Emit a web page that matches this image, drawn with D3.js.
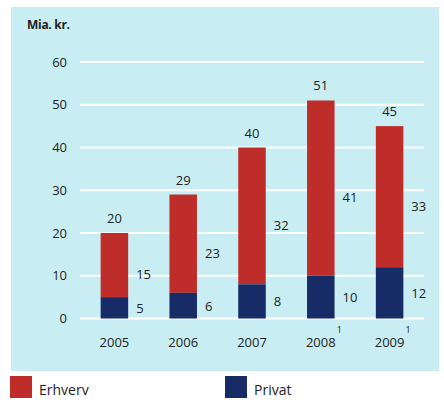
<!DOCTYPE html>
<html>
<head>
<meta charset="utf-8">
<script src="https://cdn.jsdelivr.net/npm/d3@7"></script>
<style>
  body { margin: 0; background: #fff; }
  text { font-family: "Open Sans", "DejaVu Sans", sans-serif; fill: #222; }
</style>
</head>
<body>
<div class="chart"></div>
<script>
// chart data
var years = ["2005", "2006", "2007", "2008", "2009"];
var footnotes = ["", "", "", "1", "1"];
var privat = [5, 6, 8, 10, 12];
var erhverv = [15, 23, 32, 41, 33];
var totals = [20, 29, 40, 51, 45];
var yTicks = [0, 10, 20, 30, 40, 50, 60];

var svgWidth = 444;
var svgHeight = 400;

var svg = d3.select(".chart")
  .append("svg")
  .attr("width", svgWidth)
  .attr("height", svgHeight);

// light blue panel
svg.append("rect")
  .attr("x", 11)
  .attr("y", 7)
  .attr("width", 428)
  .attr("height", 364)
  .attr("fill", "#c8eef4");

var xScale = d3.scaleBand()
  .domain(years)
  .range([80, 424])
  .paddingInner(0.6)
  .paddingOuter(0.3);

var yScale = d3.scaleLinear()
  .domain([0, 60])
  .range([318.5, 62]);

// gridlines
svg.append("g")
  .selectAll("line")
  .data(yTicks)
  .enter()
  .append("line")
  .attr("x1", 80)
  .attr("x2", 424)
  .attr("y1", d => yScale(d))
  .attr("y2", d => yScale(d))
  .attr("stroke", "#fff")
  .attr("stroke-width", 2);

// y axis labels
var yAxis = d3.axisLeft(yScale).tickValues(yTicks).tickSize(0).tickPadding(0);
var yAxisG = svg.append("g")
  .attr("transform", "translate(67, 0)")
  .call(yAxis);
yAxisG.select(".domain").remove();
yAxisG.selectAll("text")
  .attr("font-size", "13px")
  .attr("fill", "#222")
  .style("font-family", "'Open Sans', 'DejaVu Sans', sans-serif");

svg.append("text")
  .attr("x", 27)
  .attr("y", 29)
  .attr("font-size", "12px")
  .attr("font-weight", "bold")
  .attr("letter-spacing", "-0.3")
  .text("Mia. kr.");

var data = years.map(function(y, i) {
  return { year: y, privat: privat[i], erhverv: erhverv[i], total: totals[i], note: footnotes[i] };
});

var bars = svg.append("g").selectAll("g")
  .data(data)
  .enter()
  .append("g");

// erhverv segment (stacked on top of privat)
bars.append("rect")
  .attr("x", d => xScale(d.year))
  .attr("width", xScale.bandwidth())
  .attr("y", d => yScale(d.privat + d.erhverv))
  .attr("height", d => yScale(d.privat) - yScale(d.privat + d.erhverv))
  .attr("fill", "#be2d29");

// privat segment
bars.append("rect")
  .attr("x", d => xScale(d.year))
  .attr("width", xScale.bandwidth())
  .attr("y", d => yScale(d.privat))
  .attr("height", d => yScale(0) - yScale(d.privat))
  .attr("fill", "#172b66");

// total labels above bars
bars.append("text")
  .attr("x", d => xScale(d.year) + xScale.bandwidth() / 2)
  .attr("y", d => yScale(d.total) - 10)
  .attr("text-anchor", "middle")
  .attr("font-size", "13px")
  .text(d => d.total);

// erhverv labels
bars.append("text")
  .attr("x", d => xScale(d.year) + xScale.bandwidth() + 8)
  .attr("y", d => yScale(d.privat + d.erhverv / 2) + 14)
  .attr("font-size", "13px")
  .text(d => d.erhverv);

// privat labels
bars.append("text")
  .attr("x", d => xScale(d.year) + xScale.bandwidth() + 8)
  .attr("y", d => yScale(d.privat / 2) + 5)
  .attr("font-size", "13px")
  .text(d => d.privat);

// year labels
bars.append("text")
  .attr("x", d => xScale(d.year) + xScale.bandwidth() / 2)
  .attr("y", 347)
  .attr("text-anchor", "middle")
  .attr("font-size", "13px")
  .text(d => d.year);

// footnote markers
bars.filter(d => d.note !== "")
  .append("text")
  .attr("x", d => xScale(d.year) + xScale.bandwidth() / 2 + 16)
  .attr("y", 333)
  .attr("font-size", "9px")
  .text(d => d.note);

// legend
var legend = [
  { name: "Erhverv", color: "#be2d29", x: 10 },
  { name: "Privat", color: "#172b66", x: 225 }
];
var legendG = svg.append("g").selectAll("g")
  .data(legend)
  .enter()
  .append("g");

legendG.append("rect")
  .attr("x", d => d.x)
  .attr("y", 376)
  .attr("width", 22)
  .attr("height", 22)
  .attr("fill", d => d.color);

legendG.append("text")
  .attr("x", d => d.x + 29)
  .attr("y", 395)
  .attr("font-size", "14px")
  .text(d => d.name);
</script>
</body>
</html>
